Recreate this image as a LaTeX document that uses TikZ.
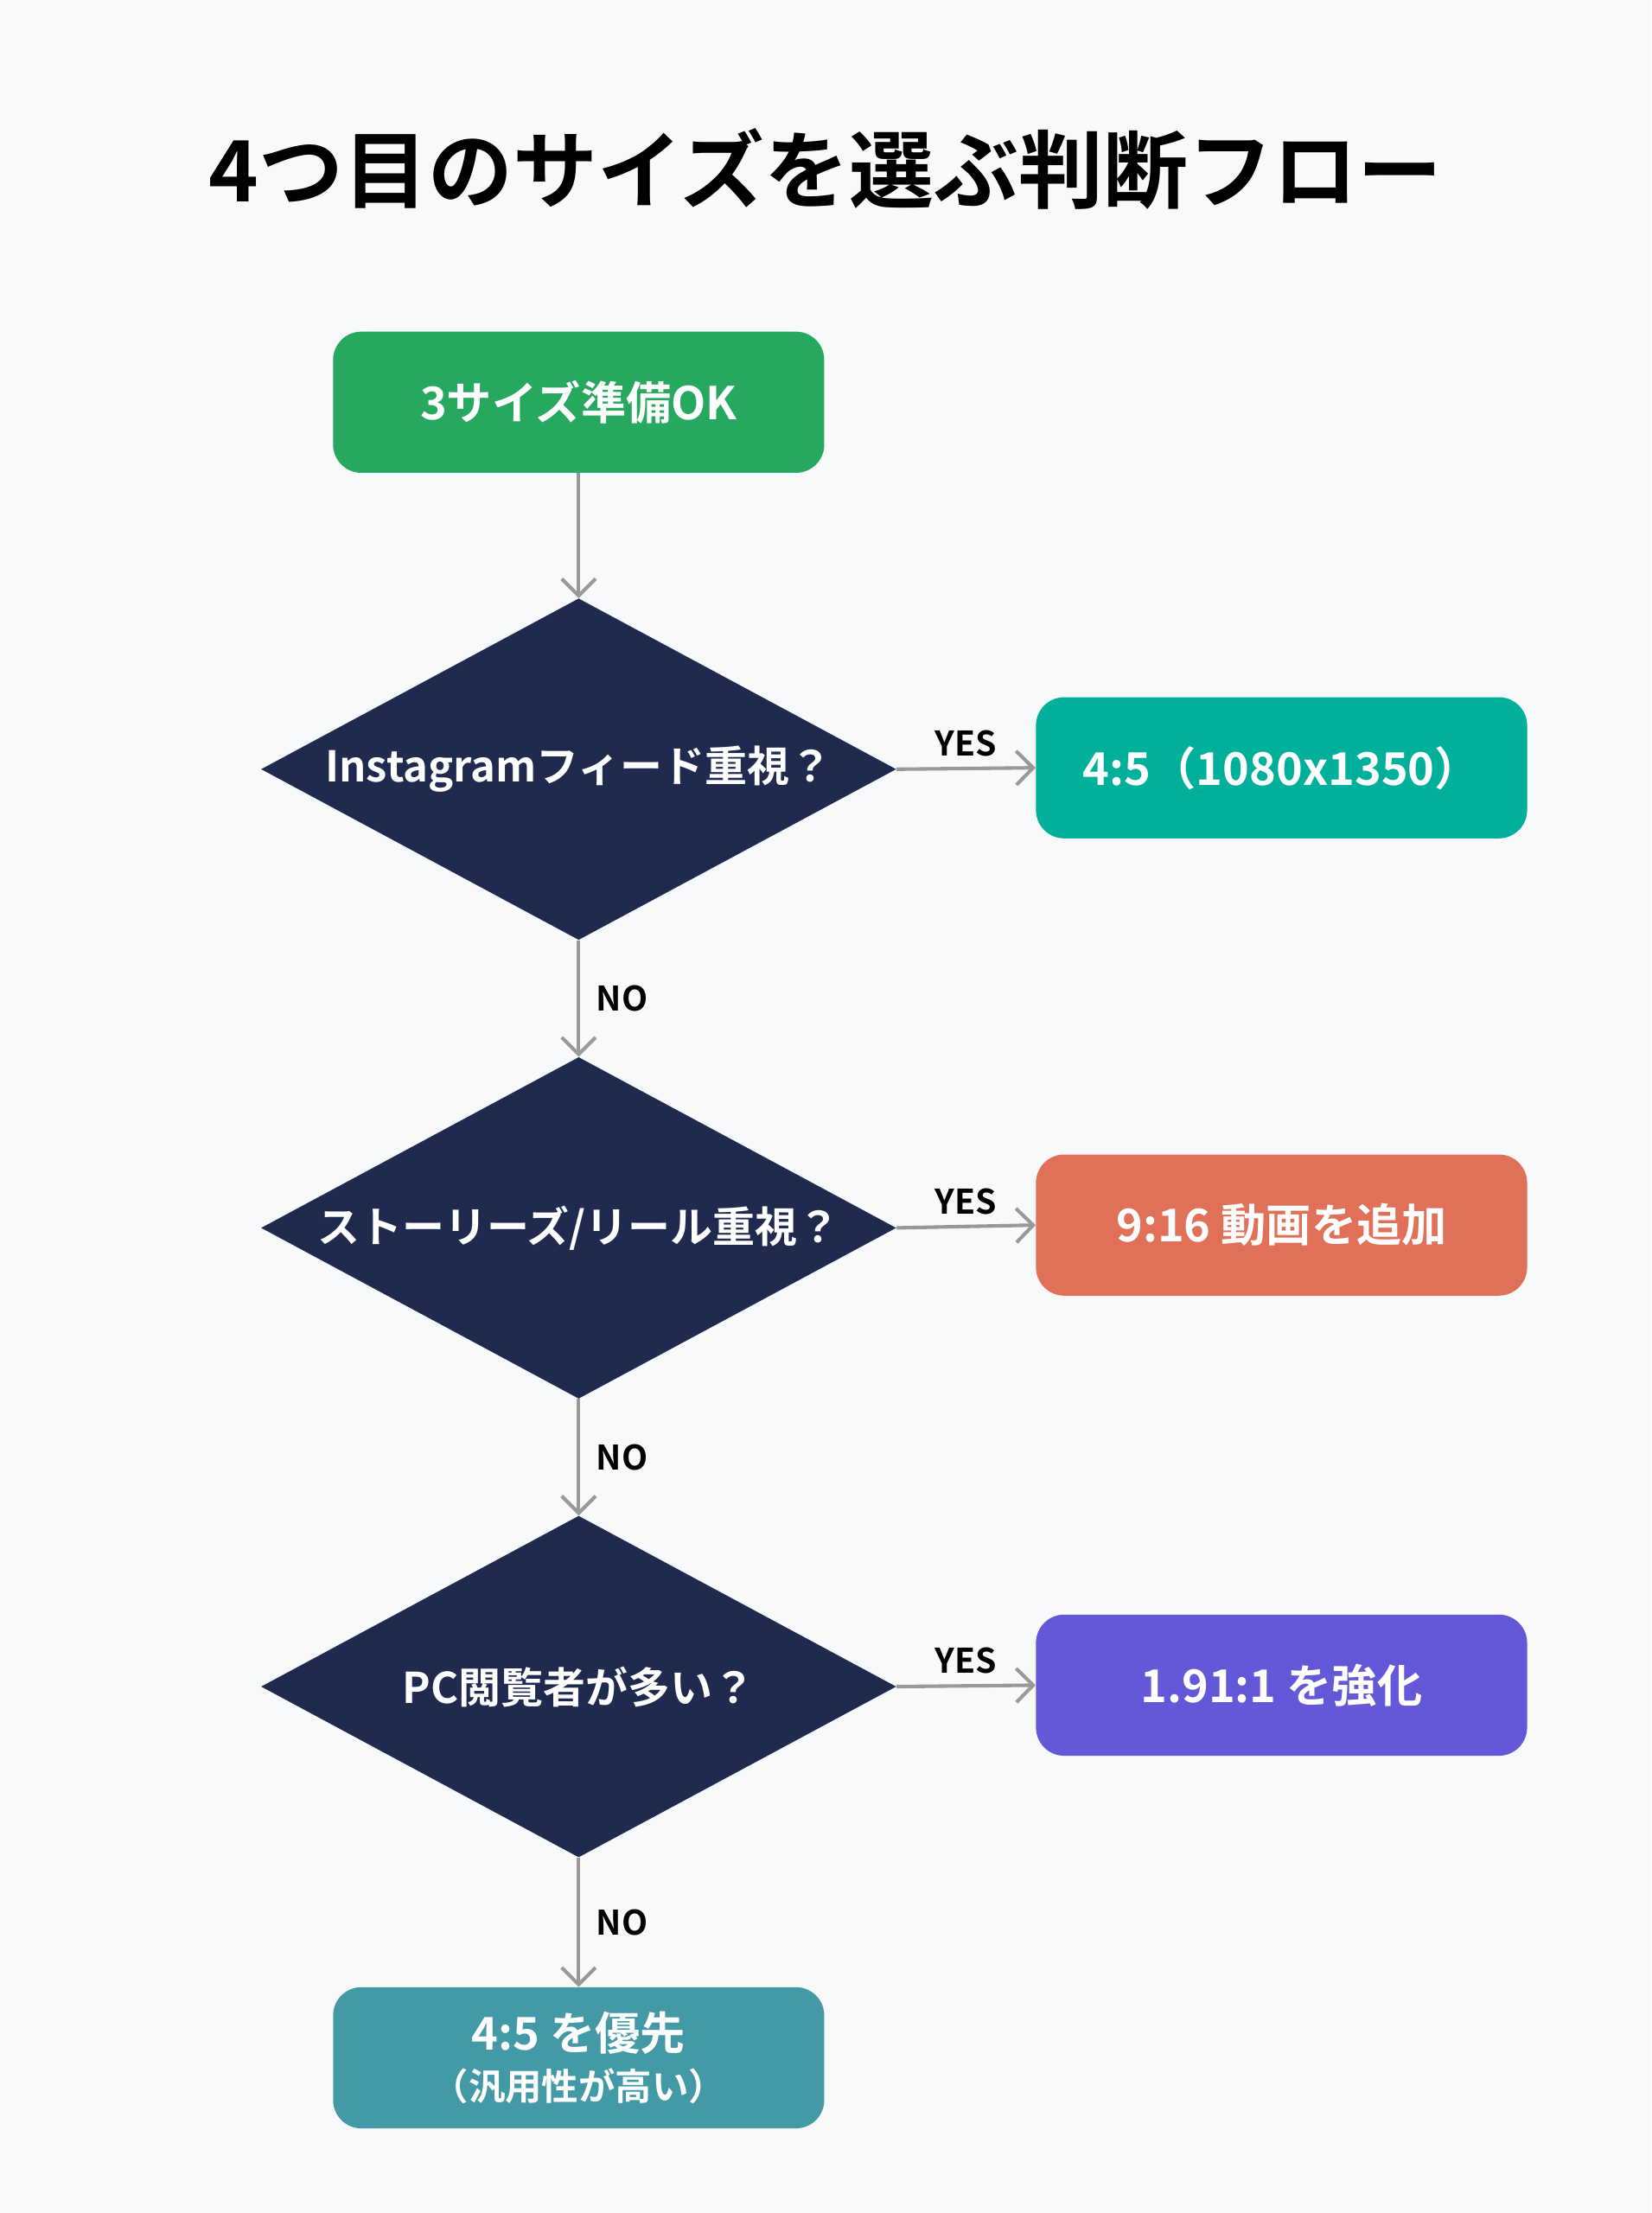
\documentclass[tikz,border=0pt]{standalone}
\usepackage{fontspec}
\setmainfont{Noto Sans CJK JP}[BoldFont={Noto Sans CJK JP Bold}]
\usetikzlibrary{shapes.geometric,arrows.meta}
\definecolor{bg}{HTML}{F8F9FA}
\definecolor{cgreen}{HTML}{27A85F}
\definecolor{cteal}{HTML}{00B09A}
\definecolor{corange}{HTML}{E07158}
\definecolor{cpurple}{HTML}{6258D8}
\definecolor{cblue}{HTML}{4499A6}
\definecolor{cnavy}{HTML}{1F2A4E}
\definecolor{carrow}{HTML}{999999}
\begin{document}
\begin{tikzpicture}[x=1pt,y=-1pt,
  box/.style={rounded corners=20pt,minimum width=348pt,minimum height=100pt,text=white,font=\fontsize{32}{38}\selectfont\bfseries,align=center},
  dia/.style={diamond,fill=cnavy,minimum width=450pt,minimum height=242pt,inner sep=0pt},
  dtext/.style={text=white,font=\fontsize{30}{36}\selectfont\bfseries},
  arr/.style={draw=carrow,line width=2.5pt,-{Straight Barb[length=12pt,width=24pt,line width=2.5pt]}},
  lab/.style={font=\fontsize{24}{28}\selectfont\bfseries,text=black}]
\fill[bg] (0,0) rectangle (1170,1568);
\useasboundingbox (0,0) rectangle (1170,1568);
\node[font=\fontsize{60}{70}\selectfont\bfseries] (title) at (585,120) {4つ目のサイズを選ぶ判断フロー};
\node[box,fill=cgreen] (start) at (410,285) {3サイズ準備OK};
\node[dia] (d1) at (410,545) {};
\node[dtext] (t1) at (410,545) {Instagramフィード重視？};
\node[box,fill=cteal] (b1) at (908,544) {4:5（1080x1350）};
\node[dia] (d2) at (410,870) {};
\node[dtext] (t2) at (410,870) {ストーリーズ/リール重視？};
\node[box,fill=corange] (b2) at (908,868) {9:16 動画を追加};
\node[dia] (d3) at (410,1195) {};
\node[dtext] (t3) at (410,1195) {PC閲覧者が多い？};
\node[box,fill=cpurple] (b3) at (908,1194) {1.91:1 を強化};
\node[box,fill=cblue] (end) at (410,1458) {4:5 を優先\\[-2pt]{\fontsize{26}{30}\selectfont （汎用性が高い）}};
\draw[arr] (start.south) -- (d1.north);
\draw[arr] (d1.south) -- node[lab,right=8pt] {NO} (d2.north);
\draw[arr] (d2.south) -- node[lab,right=8pt] {NO} (d3.north);
\draw[arr] (d3.south) -- node[lab,right=8pt] {NO} (end.north);
\draw[arr] (d1.east) -- node[lab,above=4pt] {YES} (b1.west);
\draw[arr] (d2.east) -- node[lab,above=4pt] {YES} (b2.west);
\draw[arr] (d3.east) -- node[lab,above=4pt] {YES} (b3.west);
\end{tikzpicture}
\end{document}
